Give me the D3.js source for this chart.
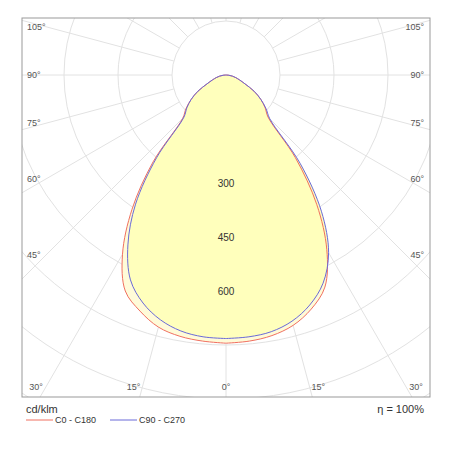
<!DOCTYPE html>
<html><head><meta charset="utf-8">
<script src="https://cdn.jsdelivr.net/npm/d3@7"></script>
<style>body{margin:0;background:#fff}text{font-family:Arial,"Liberation Sans",sans-serif}</style>
</head><body><svg id="c" width="450" height="450"></svg>
<script>
const gammas = [0,5,10,15,20,25,30,35,40,45,50,55,60,65,70,75,80,85,90];
const c0   = [745,742,735,720,692,650,560,440,300,165,142,118,90,58,40,28,18,8,0];
const c180 = [745,742,737,725,698,662,575,455,315,170,145,118,90,58,40,28,18,8,0];
const c90  = [732,730,724,708,680,638,570,462,320,172,145,118,90,58,40,28,18,8,0];
const c270 = [732,730,722,704,674,628,545,438,300,165,142,118,90,58,40,28,18,8,0];
const ringLabels = [300,450,600];
const sideAngles = [105,90,75,60,45];
const bottomAngles = [-30,-15,0,15,30];

const svg = d3.select("#c");
const L=22,T=18,R=430,B=397, cx=226, cy=75;
const r = d3.scaleLinear().domain([0,150]).range([0,54]);
svg.append("clipPath").attr("id","fr").append("rect").attr("x",L).attr("y",T).attr("width",R-L).attr("height",B-T);
const g = svg.append("g").attr("clip-path","url(#fr)");
for(let k=1;k<=12;k++) g.append("circle").attr("cx",cx).attr("cy",cy).attr("r",r(150*k)).attr("fill","none").attr("stroke","#e2e2e2");
for(let a=0;a<360;a+=15){const t=a*Math.PI/180;
 g.append("line").attr("x1",cx+r(150)*Math.sin(t)).attr("y1",cy+r(150)*Math.cos(t)).attr("x2",cx+800*Math.sin(t)).attr("y2",cy+800*Math.cos(t)).attr("stroke","#e2e2e2");}
function pts(left,right){const p=[];
 for(let i=gammas.length-1;i>=0;i--){const t=gammas[i]*Math.PI/180;p.push([cx-r(left[i])*Math.sin(t),cy+r(left[i])*Math.cos(t)]);}
 for(let i=0;i<gammas.length;i++){const t=gammas[i]*Math.PI/180;p.push([cx+r(right[i])*Math.sin(t),cy+r(right[i])*Math.cos(t)]);}
 return p;}
const line=d3.line().curve(d3.curveCatmullRom);
const pr=pts(c180,c0), pb=pts(c270,c90);
g.append("path").attr("d",line(pr)+"Z").attr("fill","#fffbd8");
g.append("path").attr("d",line(pb)+"Z").attr("fill","#ffffbc");
g.append("path").attr("d",line(pr)).attr("fill","none").attr("stroke","#f07060").attr("stroke-width",1);
g.append("path").attr("d",line(pb)).attr("fill","none").attr("stroke","#6a6ad8").attr("stroke-width",1);
ringLabels.forEach(v=>svg.append("text").attr("x",cx).attr("y",cy+r(v)+4).attr("text-anchor","middle").attr("font-size",10).attr("fill","#333").text(v));
sideAngles.forEach(a=>{const dy=204/Math.tan(a*Math.PI/180)*0.88;
 svg.append("text").attr("x",27).attr("y",cy+dy+3).attr("font-size",9).attr("fill","#555").text(a+"°");
 svg.append("text").attr("x",424).attr("y",cy+dy+3).attr("text-anchor","end").attr("font-size",9).attr("fill","#555").text(a+"°");});
bottomAngles.forEach(a=>{let x=cx+(B-cy)*Math.tan(a*Math.PI/180)*1.07;x=Math.max(36,Math.min(416,x));
 svg.append("text").attr("x",x).attr("y",390).attr("text-anchor","middle").attr("font-size",9).attr("fill","#555").text(Math.abs(a)+"°");});
svg.append("rect").attr("x",L).attr("y",T).attr("width",R-L).attr("height",B-T).attr("fill","none").attr("stroke","#999");
svg.append("text").attr("x",26).attr("y",413).attr("font-size",11).attr("fill","#333").text("cd/klm");
svg.append("text").attr("x",424).attr("y",413).attr("text-anchor","end").attr("font-size",11).attr("fill","#333").text("η = 100%");
svg.append("line").attr("x1",26).attr("x2",53).attr("y1",420).attr("y2",420).attr("stroke","#f07060");
svg.append("text").attr("x",55).attr("y",423).attr("font-size",9).attr("fill","#333").text("C0 - C180");
svg.append("line").attr("x1",110).attr("x2",137).attr("y1",420).attr("y2",420).attr("stroke","#6a6ad8");
svg.append("text").attr("x",139).attr("y",423).attr("font-size",9).attr("fill","#333").text("C90 - C270");
</script></body></html>
